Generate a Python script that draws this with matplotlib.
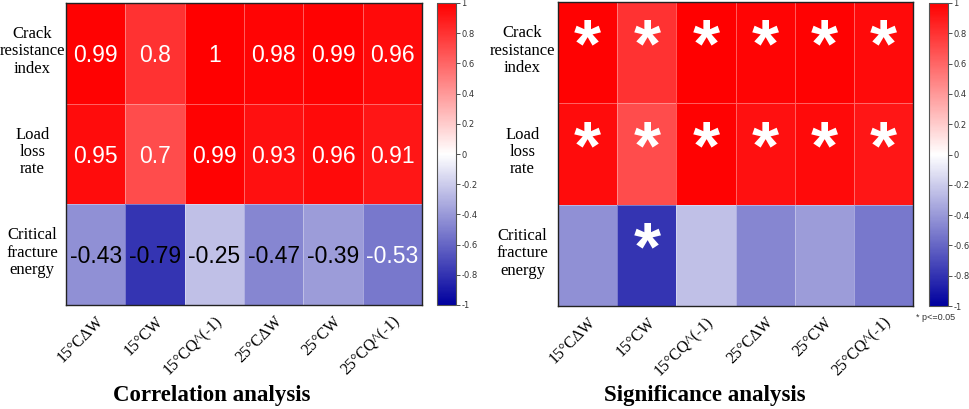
import matplotlib

matplotlib.use("Agg")
import matplotlib.pyplot as plt
import matplotlib.transforms as mtransforms
import numpy as np
from matplotlib.colors import LinearSegmentedColormap

# data
rows = ["Crack\nresistance\nindex", "Load\nloss\nrate", "Critical\nfracture\nenergy"]
cols = ["15°CΔW", "15°CW", "15°CQ^(-1)", "25°CΔW", "25°CW", "25°CQ^(-1)"]
crack = [0.99, 0.8, 1, 0.98, 0.99, 0.96]
load = [0.95, 0.7, 0.99, 0.93, 0.96, 0.91]
fracture = [-0.43, -0.79, -0.25, -0.47, -0.39, -0.53]
# p<=0.05 flags
sig_crack = [1, 1, 1, 1, 1, 1]
sig_load = [1, 1, 1, 1, 1, 1]
sig_fracture = [0, 1, 0, 0, 0, 0]
cbar_ticks = [1, 0.8, 0.6, 0.4, 0.2, 0, -0.2, -0.4, -0.6, -0.8, -1]

W, H = 969, 409
SERIF = "Liberation Serif"
SANS = "Liberation Sans"

corr = np.array([crack, load, fracture])
sig = np.array([sig_crack, sig_load, sig_fracture], dtype=bool)
# annotation text colour per cell (dark text on a few blue cells)
dark_text = np.zeros_like(corr, dtype=bool)
dark_text[2, :5] = True

cmap = LinearSegmentedColormap.from_list(
    "bwr_custom", [(0.0, 0.0, 0.62), (1.0, 1.0, 1.0), (1.0, 0.0, 0.0)])


def px_axes(fig, x0, y0, x1, y1):
    return fig.add_axes([x0 / W, (H - y1) / H, (x1 - x0) / W, (y1 - y0) / H])


def heatmap(fig, ax, label_x):
    mesh = ax.pcolormesh(corr, cmap=cmap, vmin=-1, vmax=1,
                         edgecolors=(1, 1, 1, 0.35), linewidth=0.6)
    ax.set_xlim(0, corr.shape[1])
    ax.set_ylim(corr.shape[0], 0)
    ax.set_xticks(np.arange(corr.shape[1]) + 0.5)
    ax.set_xticklabels(cols, rotation=45, ha="right", rotation_mode="anchor",
                       fontfamily=SERIF, fontsize=11.5)
    shift = mtransforms.ScaledTranslation(7 / 100, 0, fig.dpi_scale_trans)
    for lab in ax.get_xticklabels():
        lab.set_transform(lab.get_transform() + shift)
    ax.set_yticks([])
    ax.tick_params(axis="x", length=0, pad=6)
    for sp in ax.spines.values():
        sp.set_linewidth(1.0)
        sp.set_color("#222222")
    for i, lab in enumerate(rows):
        ax.text(label_x, i + 0.48, lab, ha="center", va="center",
                fontfamily=SERIF, fontsize=12, linespacing=1.1, clip_on=False)
    return mesh


def colorbar(fig, mesh, cax):
    cb = fig.colorbar(mesh, cax=cax, ticks=cbar_ticks)
    cb.ax.set_yticklabels([f"{t:g}" for t in cbar_ticks])
    cb.ax.tick_params(labelsize=6, length=3, width=0.6, colors="#333333", pad=1)
    cb.outline.set_edgecolor("#555555")
    cb.outline.set_linewidth(0.8)
    return cb


fig = plt.figure(figsize=(W / 100, H / 100), dpi=100)

# left: correlation values
ax1 = px_axes(fig, 66, 3, 422, 305)
m1 = heatmap(fig, ax1, -0.57)
for i in range(corr.shape[0]):
    for j in range(corr.shape[1]):
        ax1.text(j + 0.5, i + 0.52, f"{corr[i, j]:g}", ha="center", va="center",
                 fontfamily=SANS, fontsize=16.5,
                 color="black" if dark_text[i, j] else "white")
cax1 = px_axes(fig, 437, 3, 456, 305)
colorbar(fig, m1, cax1)
fig.text(212 / W, 1 - 396 / H, "Correlation analysis", ha="center", va="center",
         fontfamily=SERIF, fontweight="bold", fontsize=16.5)

# right: significance
ax2 = px_axes(fig, 558, 2, 913, 306)
m2 = heatmap(fig, ax2, -0.6)
for i in range(corr.shape[0]):
    for j in range(corr.shape[1]):
        if sig[i, j]:
            ax2.text(j + 0.5, i + 0.46, "*", ha="center", va="center",
                     fontfamily=SANS, fontweight="bold", fontsize=50, color="white")
cax2 = px_axes(fig, 929, 3, 948, 306)
colorbar(fig, m2, cax2)
fig.text(936 / W, 1 - 318 / H, "* p<=0.05", ha="center", va="center",
         fontfamily=SANS, fontsize=6.5, color="#333333")
fig.text(705 / W, 1 - 396 / H, "Significance analysis", ha="center", va="center",
         fontfamily=SERIF, fontweight="bold", fontsize=16.5)

fig.savefig("out.png", dpi=100)
